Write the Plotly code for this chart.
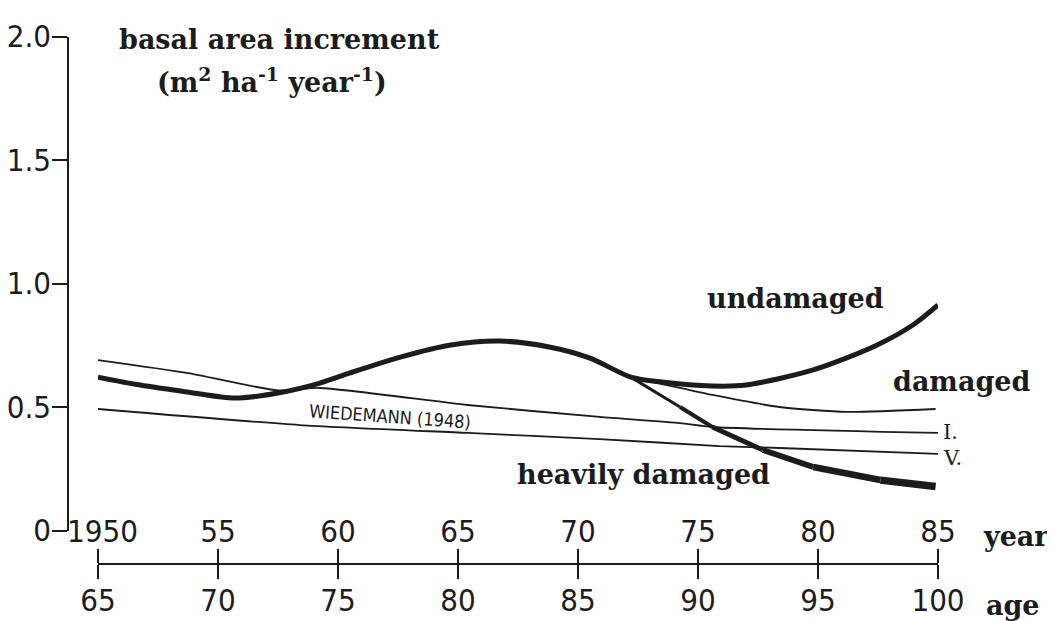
import plotly.graph_objects as go

# ---- values (year, basal area increment) ----
UNDAMAGED_YEAR = [1950.0, 1951.75, 1953.7, 1955.7, 1957.5, 1959.25, 1960.5, 1962.6, 1964.7,
                  1966.75, 1968.8, 1970.5, 1972.2, 1973.5, 1975.6, 1977.0, 1979.8, 1982.4,
                  1984.0, 1985.0]
UNDAMAGED_BAI = [0.621, 0.589, 0.561, 0.536, 0.557, 0.597, 0.638, 0.702, 0.751,
                 0.767, 0.743, 0.698, 0.621, 0.601, 0.585, 0.589, 0.650, 0.748,
                 0.835, 0.913]

HEAVY_YEAR = [1972.2, 1974.25, 1975.6, 1977.7, 1979.8, 1982.6, 1984.9]
HEAVY_BAI = [0.621, 0.500, 0.419, 0.326, 0.257, 0.204, 0.178]

DAMAGED_YEAR = [1972.3, 1974.25, 1975.6, 1978.4, 1981.2, 1984.9]
DAMAGED_BAI = [0.617, 0.577, 0.549, 0.500, 0.480, 0.492]

# Wiedemann (1948) yield tables, classes I and V
WIED_I_YEAR = [1950.0, 1953.7, 1957.5, 1959.25, 1965.4, 1970.9, 1974.25, 1975.6, 1985.0]
WIED_I_BAI = [0.690, 0.638, 0.567, 0.577, 0.508, 0.460, 0.435, 0.419, 0.395]
WIED_V_YEAR = [1950.0, 1958.4, 1965.4, 1970.9, 1975.9, 1978.4, 1985.0]
WIED_V_BAI = [0.492, 0.427, 0.395, 0.370, 0.342, 0.334, 0.310]

YEAR_TICKS = [1950, 1955, 1960, 1965, 1970, 1975, 1980, 1985]
YEAR_LABELS = ["\u00a01950", "55", "60", "65", "70", "75", "80", "85"]
AGE_TICKS = [65, 70, 75, 80, 85, 90, 95, 100]
AGE_LABELS = ["65", "70", "75", "80", "85", "90", "95", "100"]
BAI_TICKS = [0, 0.5, 1.0, 1.5, 2.0]
BAI_LABELS = ["0", "0.5", "1.0", "1.5", "2.0"]

# the page puts the figure 8px in from the window corner
OFF = 8
W, H = 1055 - OFF, 621 - OFF
INK = "#1c1c1c"
SERIF = "DejaVu Serif, Liberation Serif, serif"
DRAFT = "DejaVu Sans Condensed, Liberation Sans Narrow, sans-serif"


def px(x):
    return (x - OFF) / W


def py(y):
    return (H - (y - OFF)) / H


fig = go.Figure()

# thin yield-table and 'damaged' lines
for xs, ys in [(WIED_I_YEAR, WIED_I_BAI), (WIED_V_YEAR, WIED_V_BAI), (DAMAGED_YEAR, DAMAGED_BAI)]:
    fig.add_trace(go.Scatter(x=xs, y=ys, mode="lines",
                             line=dict(color=INK, width=1.8, shape="spline", smoothing=0.6),
                             hoverinfo="skip", showlegend=False))

# heavily damaged: drawn segment by segment so the stroke thickens to the right
n_seg = len(HEAVY_YEAR) - 1
for i in range(n_seg):
    fig.add_trace(go.Scatter(x=HEAVY_YEAR[i:i + 2], y=HEAVY_BAI[i:i + 2], mode="lines",
                             line=dict(color=INK, width=3 + 4.5 * i / (n_seg - 1)),
                             hoverinfo="skip", showlegend=False))

# undamaged (thick)
fig.add_trace(go.Scatter(x=UNDAMAGED_YEAR, y=UNDAMAGED_BAI, mode="lines",
                         line=dict(color=INK, width=5, shape="spline", smoothing=0.8),
                         hoverinfo="skip", showlegend=False))

# invisible trace so the age axis gets drawn
fig.add_trace(go.Scatter(x=AGE_TICKS, y=[0] * len(AGE_TICKS), xaxis="x2", mode="markers",
                         marker=dict(opacity=0), hoverinfo="skip", showlegend=False))

# pixel anchors of the drawing (window pixels, from the reference)
x0_px, x1_px = 98, 938          # year 1950 .. 1985
y0_px, y2_px = 530.5, 36.5      # value 0 .. 2.0
yaxis_px = 68
xline_px = 564

tick_font = dict(family=DRAFT, size=31, color=INK)
common_x = dict(domain=[px(x0_px), px(x1_px)], anchor="free", position=py(xline_px),
                showline=True, linecolor=INK, linewidth=1.6, ticks="outside", ticklen=14,
                tickwidth=1.6, tickcolor=INK, showgrid=False, zeroline=False,
                tickfont=tick_font, automargin=False, ticklabelstandoff=-5)

fig.update_layout(
    width=W, height=H,
    margin=dict(l=0, r=0, t=0, b=0, pad=0),
    paper_bgcolor="white", plot_bgcolor="white",
    showlegend=False,
    xaxis=dict(range=[1950, 1985], side="top", tickvals=YEAR_TICKS, ticktext=YEAR_LABELS,
               **common_x),
    xaxis2=dict(range=[65, 100], side="bottom", overlaying="x", tickvals=AGE_TICKS,
                ticktext=AGE_LABELS, **common_x),
    yaxis=dict(range=[0, 2], domain=[py(y0_px), py(y2_px)], anchor="free",
               position=px(yaxis_px), showline=True, linecolor=INK, linewidth=1.6,
               ticks="outside", ticklen=15, tickwidth=1.6, tickcolor=INK,
               tickvals=BAI_TICKS, ticktext=BAI_LABELS, tickfont=dict(family=DRAFT, size=31, color=INK),
               ticklabelstandoff=-5, showgrid=False, zeroline=False, automargin=False),
)

lab = dict(family=SERIF, size=27, color=INK, weight="bold")
notes = [
    ("undamaged", 795, 298),
    ("damaged", 961, 381),
    ("heavily damaged", 643, 474),
    ("year", 1016, 536),
    ("age", 1013, 605),
    ("basal area increment", 279, 40),
    ("(m<sup>2</sup> ha<sup>-1</sup> year<sup>-1</sup>)", 272, 80),
]
for text, x, y in notes:
    fig.add_annotation(text=text, x=px(x), y=py(y), xref="paper", yref="paper", showarrow=False,
                       font=lab, xanchor="center", yanchor="middle")

fig.add_annotation(text="WIEDEMANN (1948)", x=px(390), y=py(416), xref="paper", yref="paper",
                   showarrow=False, textangle=4,
                   font=dict(family=DRAFT, size=18, color=INK))
for text, y in [("I.", 432), ("V.", 458)]:
    fig.add_annotation(text=text, x=px(941), y=py(y), xref="paper", yref="paper", showarrow=False,
                       xanchor="left", yanchor="middle",
                       font=dict(family=SERIF, size=21, color=INK))

fig.write_html("out.html")
